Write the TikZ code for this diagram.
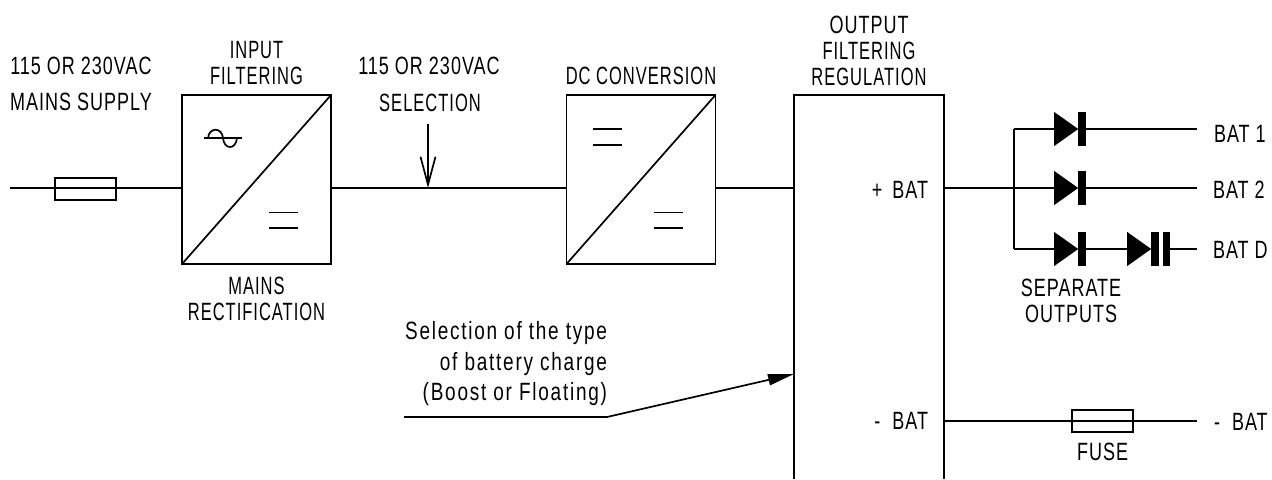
\documentclass[tikz,border=0pt]{standalone}
\usepackage{fontspec}
\setmainfont[FakeStretch=0.72,LetterSpace=4]{Liberation Sans}
\newfontfamily\tightfont[FakeStretch=0.66,LetterSpace=4]{Liberation Sans}
\newfontfamily\notefont[FakeStretch=0.76,LetterSpace=7]{Liberation Sans}
\usetikzlibrary{arrows.meta,positioning,shapes.geometric}

\begin{document}
\begin{tikzpicture}[
  x=0.5pt, y=-0.5pt,
  every node/.style={outer sep=0pt, inner sep=0pt},
  wire/.style={line width=0.85pt},
  conv/.style={draw, line width=0.85pt, minimum width=74.5pt, minimum height=84.5pt},
  fuse/.style={draw, line width=0.85pt, minimum width=30.5pt, minimum height=11pt},
  lbl/.style={font=\fontsize{12.5}{13}\selectfont, align=center},
  lbltight/.style={font=\tightfont\fontsize{12.5}{13}\selectfont, align=center},
  note/.style={font=\notefont\fontsize{12.5}{15.3}\selectfont, align=right},
  diode/.style={isosceles triangle, isosceles triangle stretches, shape border rotate=0,
    fill=black, minimum width=17pt, minimum height=12pt},
  bar/.style={fill=black, minimum width=3.8pt, minimum height=17pt}
]
  \useasboundingbox (0,0) rectangle (1272,479);

  % Converter blocks
  \node[conv] (inbox) at (256.5,179.5) {};
  \node[conv] (dcbox) at (641,179.5) {};
  \draw[wire] (inbox.south west) -- (inbox.north east);
  \draw[wire] (dcbox.south west) -- (dcbox.north east);

  % Output block, runs off the bottom
  \coordinate (outbl) at (794,479);
  \coordinate (outbr) at (944,479);
  \coordinate (outtl) at (794,95);
  \coordinate (outtr) at (944,95);
  \draw[wire] (outbl) -- (outtl) -- (outtr) -- (outbr);

  % Symbols in the blocks
  \draw[wire] (204,138) -- (242,138);
  \draw[wire] (208,138) .. controls (209,127) and (222,127) .. (223,138)
    .. controls (224,150) and (236,150) .. (237,138);
  \draw[wire] (269,212.5) -- (298,212.5) (269,228) -- (298,228);
  \draw[wire] (593,129) -- (622,129) (593,145) -- (622,145);
  \draw[wire] (654,212.5) -- (683,212.5) (654,228) -- (683,228);

  % Mains line
  \coordinate (mainsin) at (10,188);
  \coordinate (outin) at (794,188);
  \coordinate (outpos) at (944,188);
  \coordinate (outneg) at (944,421);
  \node[fuse] (mfuse) at (85.5,189) {};
  \draw[wire] (mainsin) -- (mainsin -| inbox.west);
  \draw[wire] (mainsin -| inbox.east) -- (mainsin -| dcbox.west);
  \draw[wire] (mainsin -| dcbox.east) -- (outin);
  \coordinate (seltop) at (428,124);
  \coordinate (seltip) at (428,188);
  \draw[wire, -{Straight Barb[length=14pt,width=7.5pt]}] (seltop) -- (seltip);

  % Separate outputs
  \coordinate (bat1) at (1197,129);
  \coordinate (bat2) at (1197,188);
  \coordinate (batd) at (1197,249);
  \coordinate (split1) at (1014,129);
  \coordinate (split3) at (1014,249);
  \node[diode] (d1) at (1063,129) {};
  \node[bar, right=0pt of d1] (b1) {};
  \node[diode] (d2) at (1063,188) {};
  \node[bar, right=0pt of d2] (b2) {};
  \node[diode] (d3) at (1063,249) {};
  \node[bar, right=0pt of d3] (b3) {};
  \node[diode] (d4) at (1136,249) {};
  \node[bar, right=0pt of d4] (b4) {};
  \node[bar, right=2pt of b4] (b5) {};
  \draw[wire] (outpos) -- (d2.west);
  \draw[wire] (b2) -- (bat2);
  \draw[wire] (split1) -- (split3);
  \draw[wire] (split1) -- (d1.west);
  \draw[wire] (b1) -- (bat1);
  \draw[wire] (split3) -- (d3.west);
  \draw[wire] (b3) -- (d4.west);
  \draw[wire] (b5) -- (batd);

  % Negative output
  \coordinate (batn) at (1197,421);
  \node[fuse] (nfuse) at (1102.5,421) {};
  \draw[wire] (outneg) -- (batn);

  % Charge selection
  \coordinate (chgin) at (404,417);
  \coordinate (chgknee) at (607,417);
  \coordinate (chgtip) at (794,374);
  \draw[wire, -{Triangle[length=13pt,width=5.5pt]}] (chgin) -- (chgknee) -- (chgtip);

  % Labels
  \node[lbl] (supa) at (81,66) {115 OR 230VAC};
  \node[lbl] (supb) at (81,102) {MAINS SUPPLY};
  \node[lbltight, above=5pt of inbox] (inlab) {INPUT\\FILTERING};
  \node[lbltight, below=6.5pt of inbox] (rectlab) {MAINS\\RECTIFICATION};
  \node[lbl] (sela) at (429,66) {115 OR 230VAC};
  \node[lbltight] (selb) at (430,103) {SELECTION};
  \node[lbltight, above=5pt of dcbox] (dclab) {DC CONVERSION};
  \node[lbl, anchor=south] (outlab) at (869,86) {OUTPUT\\{\tightfont FILTERING}\\{\tightfont REGULATION}};
  \node[lbl, anchor=east] (poslab) at (928,190) {+\hspace{2pt} BAT};
  \node[lbl, anchor=east] (neglab) at (928,421) {-\hspace{3pt} BAT};
  \node[lbl, anchor=west] (lab1) at (1214,134) {BAT 1};
  \node[lbl, anchor=west] (lab2) at (1213,190) {BAT 2};
  \node[lbl, anchor=west] (labd) at (1213,250) {BAT D};
  \node[lbl, anchor=west] (labn) at (1214,422) {-\hspace{3pt} BAT};
  \node[lbl] (seplab) at (1071,301) {SEPARATE\\OUTPUTS};
  \node[lbl, below=5.5pt of nfuse] (fuselab) {FUSE};
  \node[note, anchor=south east] (chglab) at (607,406) {Selection of the type\\of battery charge\\(Boost or Floating)};
\end{tikzpicture}
\end{document}
